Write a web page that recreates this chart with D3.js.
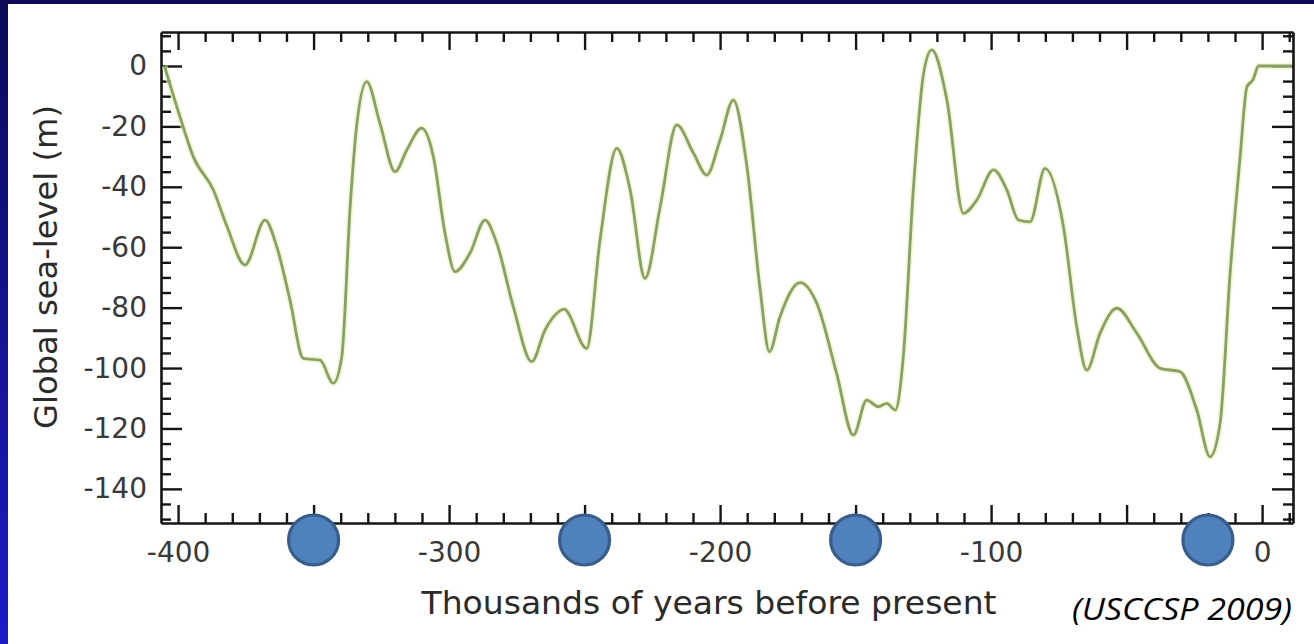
<!DOCTYPE html>
<html>
<head>
<meta charset="utf-8">
<script src="https://cdn.jsdelivr.net/npm/d3@7"></script>
<style>
  html, body { margin: 0; padding: 0; background: #fff; }
  svg { display: block; }
</style>
</head>
<body>
<svg id="chart" width="1314" height="644"></svg>
<script>
// Global sea level over the last four glacial cycles (thousands of years before present)
const ageKa = [
  -405, -399.3, -394.4, -387, -382, -375.3, -367.9, -363.6, -358.7, -353.8,
  -347.6, -342.7, -339.6, -336.5, -334, -330.4, -325.5, -319.9, -315.6, -310.1,
  -305.8, -301.5, -297.8, -292.3, -286.7, -282.4, -276.3, -269.5, -264.6, -259,
  -257.6, -249.2, -244.3, -238.1, -233.2, -227.7, -222.1, -216, -209.8, -204.9,
  -200, -195.1, -190.1, -185.2, -181.8, -177.9, -170.5, -164.3, -157, -150.8,
  -145.9, -141.6, -138.5, -135.4, -132.4, -128.7, -124.9, -121.9, -116.3, -110.2,
  -105.3, -99.1, -94.2, -89.9, -85.6, -80.1, -73.3, -68.4, -64.7, -59.8,
  -53.6, -46.2, -37.6, -30.3, -24.1, -19.2, -15.5, -11.8, -8.1, -5.6,
  -3.4, -1.3, 11
];
const seaLevelM = [
  0, -16.8, -30, -41, -53, -65.9, -51, -59.8, -77.5, -96.8,
  -97.4, -105, -96.3, -46.6, -19, -5.2, -19, -35, -27.8, -20.6,
  -30, -55.4, -68.1, -62, -51, -58.7, -79.7, -97.9, -87.4, -81,
  -80.5, -93.5, -57.6, -27.3, -41, -70.3, -46.6, -19.5, -28.9, -36.1,
  -24.5, -11.3, -33.3, -74.2, -94.6, -83, -71.7, -78.6, -101.8, -122.2,
  -110.6, -112.8, -111.7, -113.9, -96.3, -41, -2.4, 5.3, -11.3, -48.8,
  -44.4, -34.4, -41, -51, -51.6, -33.9, -53.2, -86.3, -100.7, -88.5,
  -80.2, -88.5, -100.1, -101.2, -113.9, -129.4, -118.3, -68.6, -30, -6.9,
  -4.6, 0, 0
];

// Axis tick values and labels
const xMinorTicks = d3.range(-400, 11, 10);
const xTickLabels = [-400, -300, -200, -100, 0];
const yMinorTicks = d3.range(-150, 11, 5);
const yTickLabels = [0, -20, -40, -60, -80, -100, -120, -140];

// Highlighted points along the time axis
const markerAges = [-350, -250, -150, -20];

const xTitle = "Thousands of years before present";
const yTitle = "Global sea-level (m)";
const sourceNote = "(USCCSP 2009)";

const W = 1314, H = 644;
const box = { left: 161, right: 1293, top: 32, bottom: 523 };

const svg = d3.select("#chart");

// Slide frame: navy gradient behind a white panel
const defs = svg.append("defs");
const grad = defs.append("linearGradient")
  .attr("id", "frame").attr("x1", 0).attr("y1", 0).attr("x2", 0).attr("y2", 1);
grad.append("stop").attr("offset", "0%").attr("stop-color", "#0b0b58");
grad.append("stop").attr("offset", "100%").attr("stop-color", "#1c1cc9");
svg.append("rect").attr("width", W).attr("height", H).attr("fill", "url(#frame)");
svg.append("rect").attr("x", 8).attr("y", 4).attr("width", W - 8).attr("height", H - 4).attr("fill", "#ffffff");

const x = d3.scaleLinear().domain([-406.3, 11.4]).range([box.left, box.right]);
const y = d3.scaleLinear().domain([-151.3, 11.25]).range([box.bottom, box.top]);

const tickFont = "'DejaVu Sans', sans-serif";
const axisColor = "#151515";
const minorLen = 10, majorLenX = 18, majorLenY = 21;

function styleAxis(g) {
  g.select(".domain").attr("stroke", axisColor).attr("stroke-width", 2.6);
  g.selectAll(".tick line").attr("stroke", axisColor).attr("stroke-width", 2.4);
  g.selectAll(".tick text")
    .attr("font-family", tickFont).attr("font-size", 28).attr("fill", "#383838");
}

// Bottom axis
const gBottom = svg.append("g").attr("transform", `translate(0,${box.bottom})`)
  .call(d3.axisBottom(x).tickValues(xMinorTicks).tickSizeInner(-minorLen).tickSizeOuter(0)
    .tickPadding(19).tickFormat(d => xTickLabels.includes(d) ? String(d) : ""));
styleAxis(gBottom);
gBottom.selectAll(".tick line").attr("y2", d => d % 50 === 0 ? -majorLenX : -minorLen);

// Top axis
const gTop = svg.append("g").attr("transform", `translate(0,${box.top})`)
  .call(d3.axisTop(x).tickValues(xMinorTicks).tickSizeInner(-minorLen).tickSizeOuter(0).tickFormat(""));
styleAxis(gTop);
gTop.selectAll(".tick line").attr("y2", d => d % 50 === 0 ? majorLenX : minorLen);

// Left axis
const gLeft = svg.append("g").attr("transform", `translate(${box.left},0)`)
  .call(d3.axisLeft(y).tickValues(yMinorTicks).tickSizeInner(-minorLen).tickSizeOuter(0)
    .tickPadding(14).tickFormat(d => yTickLabels.includes(d) ? String(d) : ""));
styleAxis(gLeft);
gLeft.selectAll(".tick line").attr("x2", d => d % 20 === 0 ? majorLenY : minorLen);

// Right axis
const gRight = svg.append("g").attr("transform", `translate(${box.right},0)`)
  .call(d3.axisRight(y).tickValues(yMinorTicks).tickSizeInner(-minorLen).tickSizeOuter(0).tickFormat(""));
styleAxis(gRight);
gRight.selectAll(".tick line").attr("x2", d => d % 20 === 0 ? -majorLenY : -minorLen);

// Sea-level curve
const line = d3.line()
  .x((d, i) => x(ageKa[i]))
  .y(d => y(d))
  .curve(d3.curveMonotoneX);

const plotClip = defs.append("clipPath").attr("id", "plotClip");
plotClip.append("rect").attr("x", box.left).attr("y", box.top)
  .attr("width", box.right - box.left).attr("height", box.bottom - box.top);

const curveG = svg.append("g").attr("clip-path", "url(#plotClip)");
curveG.append("path").datum(seaLevelM).attr("d", line)
  .attr("fill", "none").attr("stroke", "#e2f5b0").attr("stroke-width", 6)
  .attr("stroke-linejoin", "round").attr("opacity", 0.6);
curveG.append("path").datum(seaLevelM).attr("d", line)
  .attr("fill", "none").attr("stroke", "#8a9f68").attr("stroke-width", 2.8)
  .attr("stroke-linejoin", "round");

// Axis titles
svg.append("text")
  .attr("transform", `translate(57,267) rotate(-90)`)
  .attr("text-anchor", "middle")
  .attr("font-family", tickFont).attr("font-size", 32).attr("fill", "#2a2a2a")
  .attr("textLength", 324).attr("lengthAdjust", "spacingAndGlyphs")
  .text(yTitle);

svg.append("text")
  .attr("x", 709).attr("y", 614)
  .attr("text-anchor", "middle")
  .attr("font-family", tickFont).attr("font-size", 32).attr("fill", "#2a2a2a")
  .attr("textLength", 575).attr("lengthAdjust", "spacingAndGlyphs")
  .text(xTitle);

// Marker circles on the time axis
svg.append("g").selectAll("circle").data(markerAges).join("circle")
  .attr("cx", d => x(d)).attr("cy", box.bottom + 17)
  .attr("r", 25)
  .attr("fill", "#4f81bd").attr("stroke", "#385d8a").attr("stroke-width", 3.2);

// Source note
svg.append("text")
  .attr("x", 1072).attr("y", 620)
  .attr("font-family", "'Open Sans', sans-serif").attr("font-style", "italic")
  .attr("font-size", 31).attr("fill", "#000")
  .attr("textLength", 220).attr("lengthAdjust", "spacingAndGlyphs")
  .text(sourceNote);
</script>
</body>
</html>
